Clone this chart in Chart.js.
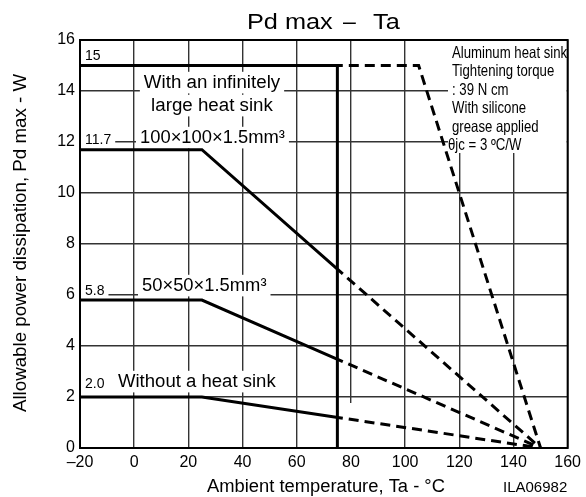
<!DOCTYPE html>
<html>
<head>
<meta charset="utf-8">
<script src="https://cdn.jsdelivr.net/npm/chart.js@4.4.0/dist/chart.umd.min.js"></script>
<style>
  body { margin: 0; background: #fff; }
  #wrap { width: 586px; height: 497px; }
</style>
</head>
<body>
<div id="wrap"><canvas id="chart" width="586" height="497"></canvas></div>
<script>
// Pd max - Ta derating curves
const xTickValues = [-20, 0, 20, 40, 60, 80, 100, 120, 140, 160];
const xTickLabels = ["–20", "0", "20", "40", "60", "80", "100", "120", "140", "160"];

// infinitely large heat sink
const taInfSolid = [-20, 77];
const pdInfSolid = [15, 15];
const taLimit = [75, 75];
const pdLimit = [15, 0];
const taInfDashed = [77, 105, 150];
const pdInfDashed = [15, 15, 0];

// finite heat sinks / no heat sink
const taSolid = [-20, 25, 77];
const taDashed = [77, 150];
const pd100Solid = [11.7, 11.7, 6.83];
const pd100Dashed = [6.83, 0];
const pd50Solid = [5.8, 5.8, 3.39];
const pd50Dashed = [3.39, 0];
const pdNoneSolid = [2.0, 2.0, 1.17];
const pdNoneDashed = [1.17, 0];

const FONT = "'Liberation Sans', Arial, Helvetica, sans-serif";
const DASH = [10, 6];
const GRID_COLOR = "#333";

function pts(xs, ys) {
    return xs.map((x, i) => ({x: x, y: ys[i]}));
}

function solid(xs, ys) {
    return {data: pts(xs, ys), borderColor: "#000", borderWidth: 3, pointRadius: 0, tension: 0, fill: false, borderCapStyle: "butt"};
}

function dashed(xs, ys) {
    return {...solid(xs, ys), borderDash: DASH, borderDashOffset: 10};
}

// text drawn on the canvas (baseline positions in px)
const plotLabels = [
    {t: "15", x: 85, y: 60, size: 14, mask: true},
    {t: "With an infinitely", x: 212, y: 88, size: 18, sx: 1.04, align: "center", mask: true},
    {t: "large heat sink", x: 212, y: 111, size: 18, sx: 1.04, align: "center", mask: true},
    {t: "11.7", x: 85, y: 144, size: 14, mask: true},
    {t: "100×100×1.5mm³", x: 140, y: 143, size: 18, sx: 1.02, mask: true},
    {t: "5.8", x: 85, y: 295, size: 14, mask: true},
    {t: "50×50×1.5mm³", x: 142, y: 291, size: 18, sx: 1.02, mask: true},
    {t: "2.0", x: 85, y: 388, size: 14, mask: true},
    {t: "Without a heat sink", x: 118, y: 387, size: 18, sx: 1.03, mask: true}
];

const noteLines = ["Aluminum heat sink", "Tightening torque", ": 39 N cm", "With silicone", "grease applied", "θjc = 3 ºC/W"];

const outerLabels = [
    {t: "Pd max", x: 247, y: 29, size: 22, sx: 1.15},
    {t: "–", x: 343, y: 29, size: 22, sx: 1.05},
    {t: "Ta", x: 373, y: 29, size: 22, sx: 1.15},
    {t: "Ambient temperature, Ta - °C", x: 207, y: 492, size: 18, sx: 1.02},
    {t: "ILA06982", x: 503, y: 492, size: 15}
];

function drawText(ctx, o) {
    ctx.save();
    ctx.font = `${o.size}px ${FONT}`;
    ctx.textBaseline = "alphabetic";
    ctx.textAlign = "left";
    const sx = o.sx || 1;
    const w = ctx.measureText(o.t).width * sx;
    const left = o.align === "center" ? o.x - w / 2 : o.x;
    if (o.mask) {
        ctx.fillStyle = "#fff";
        ctx.fillRect(left - 4, o.y - o.size * 0.9, w + 8, o.size * 1.2);
    }
    ctx.fillStyle = "#000";
    ctx.translate(left, o.y);
    ctx.scale(sx, 1);
    ctx.fillText(o.t, 0, 0);
    ctx.restore();
}

const decorPlugin = {
    id: "decor",
    beforeDatasetsDraw(chart) {
        const ctx = chart.ctx;
        const a = chart.chartArea;
        const xs = chart.scales.x;
        const ys = chart.scales.y;

        // gridline break below y=2 at 80 C, as in the original sheet
        ctx.fillStyle = "#fff";
        ctx.fillRect(xs.getPixelForValue(80) - 2, ys.getPixelForValue(2) + 6, 4, a.bottom - ys.getPixelForValue(2) - 7);

        plotLabels.forEach(o => drawText(ctx, o));

        // condition note, top right
        ctx.fillStyle = "#fff";
        ctx.fillRect(448, a.top + 1, a.right - 449, 112);
        noteLines.forEach((t, i) => {
            drawText(ctx, {t: t, x: i === 5 ? 448 : 452, y: 58 + i * 18.4, size: 16.5, sx: 0.8});
        });

        // frame
        ctx.save();
        ctx.strokeStyle = "#000";
        ctx.lineWidth = 2;
        ctx.strokeRect(a.left, a.top, a.right - a.left, a.bottom - a.top);
        ctx.restore();

        outerLabels.forEach(o => drawText(ctx, o));

        // y axis title
        ctx.save();
        ctx.font = `18px ${FONT}`;
        ctx.fillStyle = "#000";
        ctx.textAlign = "center";
        ctx.textBaseline = "alphabetic";
        ctx.translate(26, 243);
        ctx.rotate(-Math.PI / 2);
        ctx.scale(1.04, 1);
        ctx.fillText("Allowable power dissipation, Pd max - W", 0, 0);
        ctx.restore();
    }
};

new Chart(document.getElementById("chart"), {
    type: "line",
    data: {
        datasets: [
            solid(taInfSolid, pdInfSolid),
            solid(taLimit, pdLimit),
            dashed(taInfDashed, pdInfDashed),
            solid(taSolid, pd100Solid),
            dashed(taDashed, pd100Dashed),
            solid(taSolid, pd50Solid),
            dashed(taDashed, pd50Dashed),
            solid(taSolid, pdNoneSolid),
            dashed(taDashed, pdNoneDashed)
        ]
    },
    options: {
        responsive: false,
        animation: false,
        devicePixelRatio: 1,
        layout: {padding: {top: 40, right: 14, left: 0, bottom: 0}},
        plugins: {legend: {display: false}, title: {display: false}, tooltip: {enabled: false}},
        scales: {
            x: {
                type: "linear",
                min: -20,
                max: 160,
                afterBuildTicks: s => { s.ticks = xTickValues.map(v => ({value: v})); },
                afterFit: s => { s.height = 49; },
                ticks: {
                    color: "#000",
                    font: {family: FONT, size: 16},
                    padding: 5,
                    maxRotation: 0,
                    callback: v => xTickLabels[xTickValues.indexOf(v)]
                },
                grid: {color: GRID_COLOR, lineWidth: 1.4, drawTicks: false},
                border: {display: false}
            },
            y: {
                min: 0,
                max: 16,
                afterFit: s => { s.width = 80; },
                ticks: {stepSize: 2, color: "#000", font: {family: FONT, size: 16}, padding: 5},
                grid: {color: GRID_COLOR, lineWidth: 1.4, drawTicks: false},
                border: {display: false}
            }
        }
    },
    plugins: [decorPlugin]
});
</script>
</body>
</html>
